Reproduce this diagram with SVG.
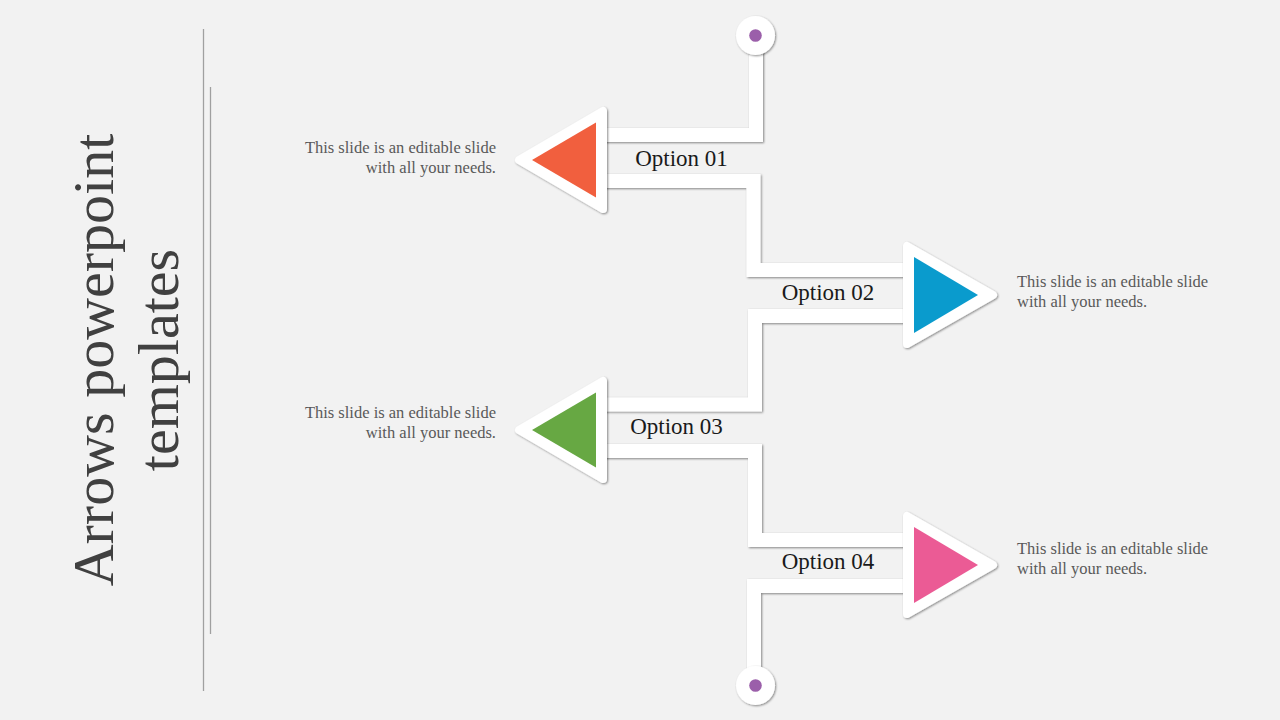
<svg xmlns="http://www.w3.org/2000/svg" width="1280" height="720" viewBox="0 0 1280 720">
<defs>
<filter id="sh" x="-20%" y="-20%" width="140%" height="140%">
<feDropShadow dx="1" dy="1" stdDeviation="1.2" flood-color="#000" flood-opacity="0.45"/>
</filter>
<style>
.band{fill:none;stroke:#fff;stroke-width:14;stroke-linejoin:miter;stroke-linecap:butt}
.outer{fill:#fff;stroke:#fff;stroke-width:8;stroke-linejoin:round}
.lbl{font-family:"Liberation Serif",serif;font-size:23px;fill:#1a1a1a;text-anchor:middle}
.desc{font-family:"Liberation Serif",serif;font-size:16.5px;fill:#595959}
.title{font-family:"Liberation Serif",serif;font-size:58px;fill:#404040;text-anchor:middle}
.rule{stroke:#a0a0a0;stroke-width:1.3}
</style>
</defs>
<rect width="1280" height="720" fill="#f2f2f2"/>
<g id="title">
<line class="rule" x1="203.5" y1="29" x2="203.5" y2="691"/>
<line class="rule" x1="210.5" y1="87" x2="210.5" y2="634"/>
<text class="title" transform="translate(113,360) rotate(-90)">Arrows powerpoint</text>
<text class="title" transform="translate(178,360) rotate(-90)">templates</text>
</g>
<g id="connectors" filter="url(#sh)">
<path class="band" d="M756,50 V135 H600"/>
<path class="band" d="M600,181 H753.5 V270 H910"/>
<path class="band" d="M910,316 H755 V404.5 H600"/>
<path class="band" d="M600,451 H755 V540 H910"/>
<path class="band" d="M910,586 H754 V672"/>
</g>
<g id="start-point">
<circle cx="755.5" cy="35.5" r="19.5" fill="#fff" filter="url(#sh)"/>
<circle cx="755.5" cy="35.5" r="6.3" fill="#9B5FAA"/>
</g>
<g id="end-point">
<circle cx="755.5" cy="685.5" r="19.5" fill="#fff" filter="url(#sh)"/>
<circle cx="755.5" cy="685.5" r="6.3" fill="#9B5FAA"/>
</g>
<g id="option-01">
<polygon class="outer" points="519,160 603,111 603,209" filter="url(#sh)"/>
<polygon points="532,160 596,122.5 596,197.5" fill="#F15F3E"/>
<text class="lbl" x="681.5" y="166">Option 01</text>
<text class="desc" text-anchor="end"><tspan x="496" y="153">This slide is an editable slide</tspan><tspan x="496" y="173">with all your needs.</tspan></text>
</g>
<g id="option-02">
<polygon class="outer" points="907,246 907,344 993,295" filter="url(#sh)"/>
<polygon points="914,257 914,333 978,295" fill="#0A9BCD"/>
<text class="lbl" x="828" y="300">Option 02</text>
<text class="desc"><tspan x="1017" y="287">This slide is an editable slide</tspan><tspan x="1017" y="307">with all your needs.</tspan></text>
</g>
<g id="option-03">
<polygon class="outer" points="519,430 603,381 603,479" filter="url(#sh)"/>
<polygon points="532,430 596,392.5 596,467.5" fill="#67A843"/>
<text class="lbl" x="676.5" y="434">Option 03</text>
<text class="desc" text-anchor="end"><tspan x="496" y="418">This slide is an editable slide</tspan><tspan x="496" y="438">with all your needs.</tspan></text>
</g>
<g id="option-04">
<polygon class="outer" points="907,516 907,614 993,565" filter="url(#sh)"/>
<polygon points="914,527 914,603 978,565" fill="#EB5B95"/>
<text class="lbl" x="828" y="569">Option 04</text>
<text class="desc"><tspan x="1017" y="554">This slide is an editable slide</tspan><tspan x="1017" y="574">with all your needs.</tspan></text>
</g>
</svg>
